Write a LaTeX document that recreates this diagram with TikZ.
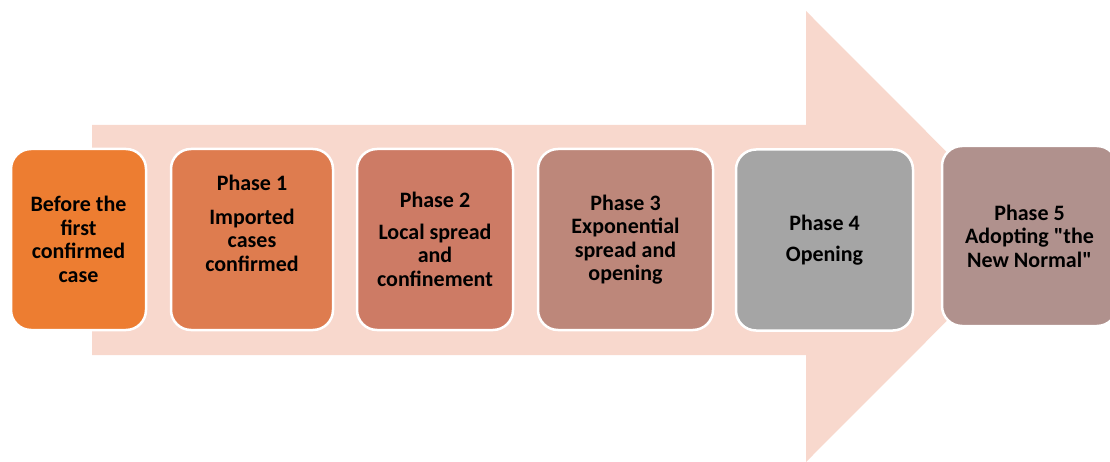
\documentclass[tikz,border=0pt]{standalone}
\usepackage{fontspec}
\setmainfont{Carlito}[Ligatures=TeXOff]
\usetikzlibrary{positioning}

\definecolor{arrowfill}{HTML}{F8D8CD}
\definecolor{phaseA}{HTML}{ED7D31}
\definecolor{phaseB}{HTML}{DE7C4F}
\definecolor{phaseC}{HTML}{CD7B65}
\definecolor{phaseD}{HTML}{BD877A}
\definecolor{phaseE}{HTML}{A5A5A5}
\definecolor{phaseF}{HTML}{B0918D}

\begin{document}
\begin{tikzpicture}[x=1pt,y=-1pt,
    phasebox/.style={draw=white,line width=2.5pt,rounded corners=20pt,
      minimum height=181pt,inner sep=0pt,outer sep=0pt},
    phasetext/.style={align=center,font=\fontsize{22}{23.5}\selectfont\bfseries,
      text=black}]
      \useasboundingbox (0,0) rectangle (1110,462);
      % big arrow behind the boxes
      \fill[arrowfill] (92,125) -- (806,125) -- (806,11) -- (1031,236.5)
        -- (806,462) -- (806,355) -- (92,355) -- cycle;
      % boxes
      \node[phasebox,fill=phaseA,minimum width=135pt] (p0) at (78.5,239.5) {};
      \node[phasebox,fill=phaseB,minimum width=162pt] (p1) at (252,239.5) {};
      \node[phasebox,fill=phaseC,minimum width=156pt] (p2) at (435,239.5) {};
      \node[phasebox,fill=phaseD,minimum width=175pt] (p3) at (625.5,239.5) {};
      \node[phasebox,fill=phaseE,minimum width=177pt] (p4) at (824.5,240) {};
      \node[phasebox,fill=phaseF,minimum width=175pt,minimum height=180pt] (p5) at (1029.5,236) {};
      % texts
      \node[phasetext] (t0) at (p0) {Before the\\first\\confirmed\\case};
      \node[phasetext,yshift=16pt] (t1) at (p1) {Phase 1\\[10pt]Imported\\cases\\confirmed};
      \node[phasetext] (t2) at (p2) {Phase 2\\[8pt]Local spread\\and\\confinement};
      \node[phasetext] (t3) at (p3) {Phase 3\\Exponential\\spread and\\opening};
      \node[phasetext] (t4) at (p4) {Phase 4\\[7pt]Opening};
      \node[phasetext] (t5) at (p5) {Phase 5\\Adopting "the\\New Normal"};
\end{tikzpicture}
\end{document}
